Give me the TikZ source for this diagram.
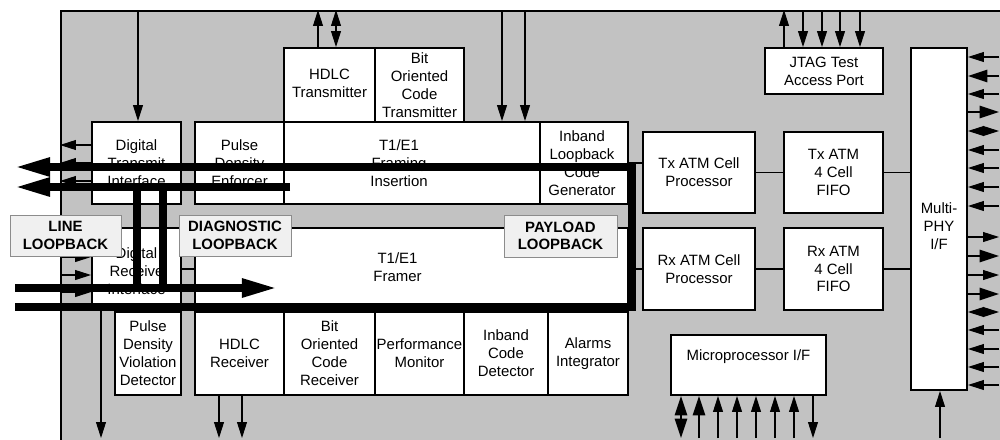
\documentclass[tikz,border=0pt]{standalone}
\usepackage{fontspec}
\setmainfont{Liberation Sans}
\usetikzlibrary{arrows.meta,shadows}
\begin{document}
\begin{tikzpicture}[x=0.2mm,y=-0.2mm,
  chip/.style={draw,fill=black!24,line width=1.2pt},
  blk/.style={draw,fill=white,line width=1.1pt,inner sep=0pt},
  txt/.style={align=center,inner sep=0pt,font=\fontsize{8.5}{10.2}\selectfont},
  lbl/.style={draw=black!45,fill=black!6,line width=0.5pt,inner sep=0pt,align=center,
    font=\bfseries\fontsize{8.5}{10}\selectfont,
    drop shadow={shadow xshift=0.7pt,shadow yshift=-0.7pt,fill=black!75,opacity=1}},
  sig/.style={line width=0.6pt,>={Triangle[length=9pt,width=5.6pt]}},
  sigb/.style={line width=1.1pt,>={Triangle[length=11pt,width=7pt]}},
  loopw/.style={line width=4pt,>={Triangle[length=20pt,width=10pt]}}]
\useasboundingbox (0,0) rectangle (1000,439);
\clip (0,0) rectangle (1000,439);
\node[chip,minimum width=200mm,minimum height=94mm,anchor=north west] (chip) at (60,10) {};
\coordinate (rim) at (999,0);
\coordinate (bot) at (0,438);
% blocks: name/x1/y1/x2/y2/text dx/text dy/text
\foreach \nm/\xa/\ya/\xb/\yb/\dx/\dy/\txt in {
  dti/92/122/181/204/0/0/{Digital\\Transmit\\Interface},
  pde/195/122/284/204/0/0/{Pulse\\Density\\Enforcer},
  hdlct/284/48/375/122/0/-2/{HDLC\\Transmitter},
  boct/375/48/464/122/0/0/{Bit\\Oriented\\Code\\Transmitter},
  fi/284/122/540/204/-13/0/{T1/E1\\Framing\\Insertion},
  ilcg/540/122/628/204/-2/0/{Inband\\Loopback\\Code\\Generator},
  dri/92/228/181/310/0/2/{Digital\\Receive\\Interface},
  frm/195/228/628/307/-14/0/{T1/E1\\Framer},
  pdvd/115/312/181/395/0/0/{Pulse\\Density\\Violation\\Detector},
  hdlcr/195/312/284/395/0/0/{HDLC\\Receiver},
  bocr/284/312/375/395/0/0/{Bit\\Oriented\\Code\\Receiver},
  pm/375/312/464/395/0/0/{Performance\\Monitor},
  icd/464/312/548/395/0/0/{Inband\\Code\\Detector},
  ai/548/312/628/395/0/0/{Alarms\\Integrator},
  txcp/643/132/755/213/0/0/{Tx ATM Cell\\Processor},
  txf/784/132/883/213/0/0/{Tx ATM\\4 Cell\\FIFO},
  rxcp/643/228/755/310/0/0/{Rx ATM Cell\\Processor},
  rxf/784/228/883/310/0/0/{Rx ATM\\4 Cell\\FIFO},
  jtag/765/48/883/94/0/0/{JTAG Test\\Access Port},
  mphy/911/48/967/390/0/7/{Multi-\\PHY\\I/F},
  upif/671/335/826/395/0/-8/{Microprocessor I/F}}{
  \node[blk,minimum width={(\xb-\xa)*0.2mm},minimum height={(\yb-\ya)*0.2mm}](\nm) at ({(\xa+\xb)/2},{(\ya+\yb)/2}){};
  \node[txt,xshift={\dx*0.2mm},yshift={\dy*(-0.2mm)}](\nm t) at (\nm){\txt};
}
% links between blocks
\draw[sig] (txcp) -- (txf);
\draw[sig] (txf.east) -- (txf.east -| mphy.west);
\draw[sig] (rxcp) -- (rxf);
\draw[sig] (rxf.east) -- (rxf.east -| mphy.west);
\draw[sig] (ilcg.east) -- (ilcg.east -| txcp.west);
\draw[sig] (frm.east |- rxcp.west) -- (rxcp.west);
\draw[sig] (dri.east) -- (dri.east -| frm.west);
% pins, top
\draw[sig,->] (chip.north -| 138,0) -- (dti.north -| 138,0);
\draw[sig,->] (hdlct.north -| 318,0) -- (chip.north -| 318,0);
\draw[sig,<->] (hdlct.north -| 336,0) -- (chip.north -| 336,0);
\foreach \xx in {502,525}{\draw[sig,->] (chip.north -| \xx,0) -- (fi.north -| \xx,0);}
\draw[sig,->] (jtag.north -| 784,0) -- (chip.north -| 784,0);
\foreach \xx in {803,822,840,860}{\draw[sig,->] (chip.north -| \xx,0) -- (jtag.north -| \xx,0);}
% pins, left
\foreach \yy in {145,163,181}{\draw[sig,->] (dti.west |- 0,\yy) -- (chip.west |- 0,\yy);}
\foreach \yy in {257,275,292}{\draw[sig,->] (chip.west |- 0,\yy) -- (dri.west |- 0,\yy);}
% pins, right
\foreach \yy/\wd in {57/sig,76/sigb,94/sig,150/sig,168/sig,187/sig,206/sig,330/sig,349/sig,367/sig,385/sig}{\draw[\wd,->] (rim |- 0,\yy) -- (mphy.east |- 0,\yy);}
\foreach \yy/\wd in {112/sigb,237/sig,256/sigb,275/sig,294/sigb}{\draw[\wd,->] (mphy.east |- 0,\yy) -- (rim |- 0,\yy);}
\foreach \yy in {131,312}{\draw[sig,<->] (mphy.east |- 0,\yy) -- (rim |- 0,\yy);}
% pins, bottom
\draw[sig,->] (dri.south -| 101,0) -- (bot -| 101,0);
\foreach \xx in {219,242}{\draw[sig,->] (hdlcr.south -| \xx,0) -- (bot -| \xx,0);}
\draw[sigb,<->] (upif.south -| 681,0) -- (bot -| 681,0);
\draw[sigb,->] (bot -| 699,0) -- (upif.south -| 699,0);
\foreach \xx in {718,737,756,775,794}{\draw[sig,->] (bot -| \xx,0) -- (upif.south -| \xx,0);}
\draw[sig,->] (upif.south -| 813,0) -- (bot -| 813,0);
\draw[sig,->] (bot -| 940,0) -- (mphy.south -| 940,0);
% loopback paths
\coordinate (plin) at (15,307);
\coordinate (plout) at (15,167);
\coordinate (txo) at (15,187);
\coordinate (rxi) at (15,288);
\draw[loopw,->] (plin) -- (plin -| 632,0) -- (plout -| 632,0) -- (plout);
\draw[loopw,->] (txo -| 290,0) -- (txo);
\draw[loopw,->] (rxi) -- (rxi -| 277,0);
\draw[loopw] (txo -| 137,0) -- (rxi -| 137,0);
\draw[loopw] (txo -| 163,0) -- (rxi -| 163,0);
% loopback labels
\foreach \nm/\xa/\ya/\xb/\yb/\txt in {
  llb/10/215/121/256/{LINE\\LOOPBACK},
  dlb/179/215/291/256/{DIAGNOSTIC\\LOOPBACK},
  plb/504/215/617/257/{PAYLOAD\\LOOPBACK}}{
  \node[lbl,minimum width={(\xb-\xa)*0.2mm},minimum height={(\yb-\ya)*0.2mm}](\nm) at ({(\xa+\xb)/2},{(\ya+\yb)/2}){\txt};
}
\end{tikzpicture}
\end{document}
